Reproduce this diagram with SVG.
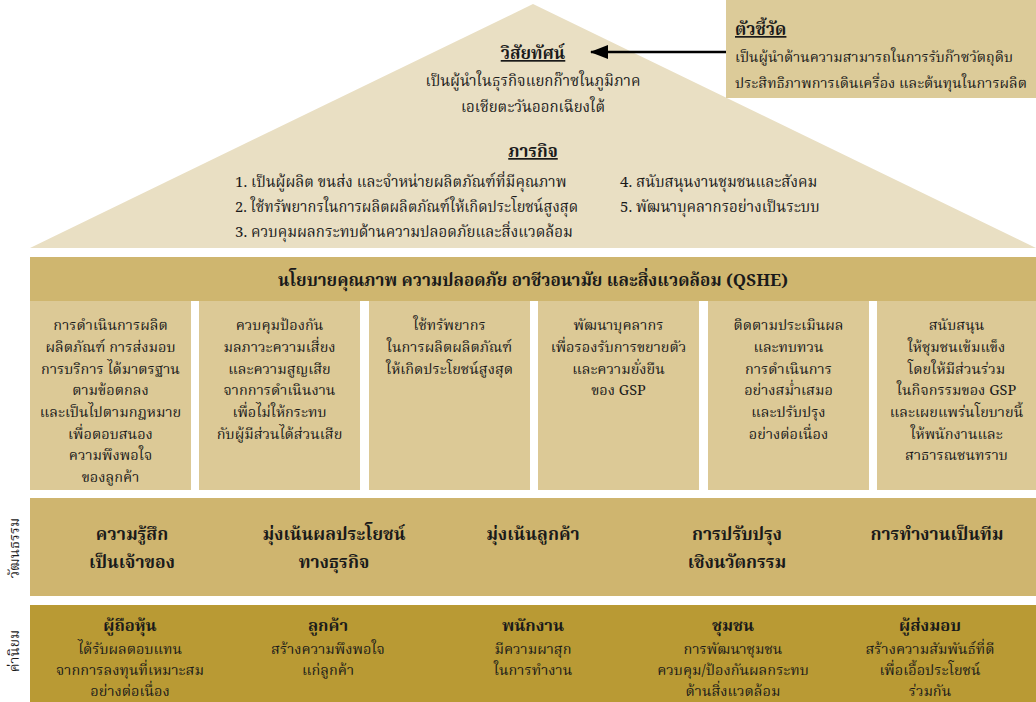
<svg xmlns="http://www.w3.org/2000/svg" width="1036" height="702" viewBox="0 0 1036 702">
  <defs>
    <style>
      text { font-family: "Noto Serif Thai", "Noto Sans Thai", "Liberation Serif", serif; fill: #1a1a1a; }
      .t { font-size: 15px; }
      .ts { font-size: 14.5px; }
      .c { font-size: 14.5px; text-anchor: middle; }
      .r { font-size: 15px; text-anchor: middle; }
      .v { font-size: 14.5px; text-anchor: middle; }
      .h { font-size: 17px; font-weight: bold; text-anchor: middle; }
      .vh { font-size: 16.5px; font-weight: bold; text-anchor: middle; }
      .k { font-size: 17.5px; font-weight: bold; text-anchor: middle; }
      .hl { font-size: 17px; font-weight: bold; }
      .u { text-decoration: underline; }
      .side { font-size: 14px; text-anchor: middle; }
    </style>
    <marker id="arrowHead" markerWidth="18" markerHeight="14" refX="17" refY="7" orient="auto" markerUnits="userSpaceOnUse">
      <path d="M0,0 L18,7 L0,14 Z" fill="#000"/>
    </marker>
  </defs>

  <rect width="1036" height="702" fill="#ffffff"/>

  <!-- roof: vision and mission -->
  <g id="roof">
    <polygon points="30,248 533,4 1036,248" fill="#e9dfc3"/>
    <text class="h u" x="533" y="59">วิสัยทัศน์</text>
    <text class="r" x="533" y="86">เป็นผู้นำในธุรกิจแยกก๊าซในภูมิภาค</text>
    <text class="r" x="533" y="112">เอเชียตะวันออกเฉียงใต้</text>
    <text class="h u" x="533" y="157">ภารกิจ</text>
    <text class="t" x="235" y="187">1. เป็นผู้ผลิต ขนส่ง และจำหน่ายผลิตภัณฑ์ที่มีคุณภาพ</text>
    <text class="t" x="235" y="212" textLength="343" lengthAdjust="spacingAndGlyphs">2. ใช้ทรัพยากรในการผลิตผลิตภัณฑ์ให้เกิดประโยชน์สูงสุด</text>
    <text class="t" x="235" y="237">3. ควบคุมผลกระทบด้านความปลอดภัยและสิ่งแวดล้อม</text>
    <text class="t" x="620" y="187">4. สนับสนุนงานชุมชนและสังคม</text>
    <text class="t" x="620" y="212">5. พัฒนาบุคลากรอย่างเป็นระบบ</text>
  </g>

  <!-- indicator box -->
  <g id="indicator">
    <rect x="726" y="0" width="310" height="98" fill="#dccb99"/>
    <text class="hl u" x="735" y="35">ตัวชี้วัด</text>
    <text class="ts" x="735" y="62" textLength="278" lengthAdjust="spacingAndGlyphs">เป็นผู้นำด้านความสามารถในการรับก๊าซวัตถุดิบ</text>
    <text class="ts" x="735" y="88" textLength="292" lengthAdjust="spacingAndGlyphs">ประสิทธิภาพการเดินเครื่อง และต้นทุนในการผลิต</text>
  </g>

  <g id="connectors">
    <line x1="726" y1="52" x2="591" y2="52" stroke="#000" stroke-width="2.5" marker-end="url(#arrowHead)"/>
  </g>

  <!-- QSHE policy -->
  <g id="policy">
    <rect x="30" y="257" width="1006" height="44" fill="#cfb66f"/>
    <text class="h" x="533" y="286">นโยบายคุณภาพ ความปลอดภัย อาชีวอนามัย และสิ่งแวดล้อม (QSHE)</text>
  </g>

  <g id="policy-1">
    <rect x="30" y="301" width="161" height="189" fill="#dcc996"/>
    <text class="c" x="110.5" y="330">การดำเนินการผลิต</text>
    <text class="c" x="110.5" y="352">ผลิตภัณฑ์ การส่งมอบ</text>
    <text class="c" x="110.5" y="374">การบริการ ได้มาตรฐาน</text>
    <text class="c" x="110.5" y="395">ตามข้อตกลง</text>
    <text class="c" x="110.5" y="417">และเป็นไปตามกฎหมาย</text>
    <text class="c" x="110.5" y="439">เพื่อตอบสนอง</text>
    <text class="c" x="110.5" y="460">ความพึงพอใจ</text>
    <text class="c" x="110.5" y="482">ของลูกค้า</text>
  </g>
  <g id="policy-2">
    <rect x="199" y="301" width="161" height="189" fill="#dcc996"/>
    <text class="c" x="279.5" y="330">ควบคุมป้องกัน</text>
    <text class="c" x="279.5" y="352">มลภาวะความเสี่ยง</text>
    <text class="c" x="279.5" y="374">และความสูญเสีย</text>
    <text class="c" x="279.5" y="395">จากการดำเนินงาน</text>
    <text class="c" x="279.5" y="417">เพื่อไม่ให้กระทบ</text>
    <text class="c" x="279.5" y="439">กับผู้มีส่วนได้ส่วนเสีย</text>
  </g>
  <g id="policy-3">
    <rect x="369" y="301" width="161" height="189" fill="#dcc996"/>
    <text class="c" x="449.5" y="330">ใช้ทรัพยากร</text>
    <text class="c" x="449.5" y="352">ในการผลิตผลิตภัณฑ์</text>
    <text class="c" x="449.5" y="374">ให้เกิดประโยชน์สูงสุด</text>
  </g>
  <g id="policy-4">
    <rect x="538" y="301" width="161" height="189" fill="#dcc996"/>
    <text class="c" x="618.5" y="330">พัฒนาบุคลากร</text>
    <text class="c" x="618.5" y="352">เพื่อรองรับการขยายตัว</text>
    <text class="c" x="618.5" y="374">และความยั่งยืน</text>
    <text class="c" x="618.5" y="395">ของ GSP</text>
  </g>
  <g id="policy-5">
    <rect x="708" y="301" width="161" height="189" fill="#dcc996"/>
    <text class="c" x="788.5" y="330">ติดตามประเมินผล</text>
    <text class="c" x="788.5" y="352">และทบทวน</text>
    <text class="c" x="788.5" y="374">การดำเนินการ</text>
    <text class="c" x="788.5" y="395">อย่างสม่ำเสมอ</text>
    <text class="c" x="788.5" y="417">และปรับปรุง</text>
    <text class="c" x="788.5" y="439">อย่างต่อเนื่อง</text>
  </g>
  <g id="policy-6">
    <rect x="877" y="301" width="159" height="189" fill="#dcc996"/>
    <text class="c" x="956.5" y="330">สนับสนุน</text>
    <text class="c" x="956.5" y="352">ให้ชุมชนเข้มแข็ง</text>
    <text class="c" x="956.5" y="374">โดยให้มีส่วนร่วม</text>
    <text class="c" x="956.5" y="395">ในกิจกรรมของ GSP</text>
    <text class="c" x="956.5" y="417">และเผยแพร่นโยบายนี้</text>
    <text class="c" x="956.5" y="439">ให้พนักงานและ</text>
    <text class="c" x="956.5" y="460">สาธารณชนทราบ</text>
  </g>

  <!-- culture -->
  <g id="culture">
    <rect x="30" y="498" width="1006" height="98" fill="#cfb56f"/>
    <text class="side" transform="translate(19,548) rotate(-90)">วัฒนธรรม</text>
    <text class="k" x="132" y="540">ความรู้สึก</text>
    <text class="k" x="132" y="568">เป็นเจ้าของ</text>
    <text class="k" x="334" y="540">มุ่งเน้นผลประโยชน์</text>
    <text class="k" x="334" y="568">ทางธุรกิจ</text>
    <text class="k" x="533" y="540">มุ่งเน้นลูกค้า</text>
    <text class="k" x="737" y="540">การปรับปรุง</text>
    <text class="k" x="737" y="568">เชิงนวัตกรรม</text>
    <text class="k" x="937" y="540">การทำงานเป็นทีม</text>
  </g>

  <!-- core values -->
  <g id="values">
    <rect x="30" y="605" width="1006" height="97" fill="#b99a34"/>
    <text class="side" transform="translate(19,651) rotate(-90)">ค่านิยม</text>
    <text class="vh" x="130" y="631">ผู้ถือหุ้น</text>
    <text class="v" x="130" y="654">ได้รับผลตอบแทน</text>
    <text class="v" x="130" y="675">จากการลงทุนที่เหมาะสม</text>
    <text class="v" x="130" y="696">อย่างต่อเนื่อง</text>
    <text class="vh" x="328" y="631">ลูกค้า</text>
    <text class="v" x="328" y="654">สร้างความพึงพอใจ</text>
    <text class="v" x="328" y="675">แก่ลูกค้า</text>
    <text class="vh" x="533" y="631">พนักงาน</text>
    <text class="v" x="533" y="654">มีความผาสุก</text>
    <text class="v" x="533" y="675">ในการทำงาน</text>
    <text class="vh" x="733" y="631">ชุมชน</text>
    <text class="v" x="733" y="654">การพัฒนาชุมชน</text>
    <text class="v" x="733" y="675">ควบคุม/ป้องกันผลกระทบ</text>
    <text class="v" x="733" y="696">ด้านสิ่งแวดล้อม</text>
    <text class="vh" x="930" y="631">ผู้ส่งมอบ</text>
    <text class="v" x="930" y="654">สร้างความสัมพันธ์ที่ดี</text>
    <text class="v" x="930" y="675">เพื่อเอื้อประโยชน์</text>
    <text class="v" x="930" y="696">ร่วมกัน</text>
  </g>
</svg>
